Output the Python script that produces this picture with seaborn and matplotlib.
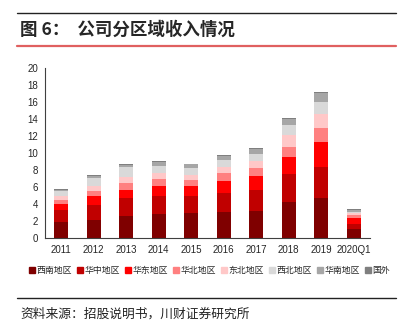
import matplotlib
matplotlib.use("Agg")
import matplotlib.pyplot as plt
from matplotlib.lines import Line2D
import seaborn as sns
import pandas as pd
import numpy as np

years = ["2011", "2012", "2013", "2014", "2015", "2016", "2017", "2018", "2019", "2020Q1"]
regions = ["西南地区", "华中地区", "华东地区", "华北地区", "东北地区", "西北地区", "华南地区", "国外"]

xinan   = [1.90, 2.15, 2.55, 2.80, 2.90, 3.00, 3.20, 4.25, 4.65, 1.10]
huazhong= [1.45, 1.75, 2.10, 2.10, 2.00, 2.35, 2.50, 3.25, 3.70, 0.60]
huadong = [0.70, 1.00, 1.00, 1.20, 1.25, 1.40, 1.55, 2.05, 3.00, 0.70]
huabei  = [0.40, 0.65, 0.85, 0.85, 0.70, 0.85, 0.95, 1.20, 1.60, 0.30]
dongbei = [0.45, 0.60, 0.70, 0.65, 0.60, 0.70, 0.80, 1.35, 1.65, 0.20]
xibei   = [0.60, 0.90, 1.10, 0.85, 0.75, 0.85, 0.90, 1.20, 1.35, 0.20]
huanan  = [0.20, 0.30, 0.30, 0.50, 0.50, 0.55, 0.55, 0.75, 1.10, 0.20]
guowai  = [0.10, 0.10, 0.10, 0.05, 0.05, 0.10, 0.10, 0.10, 0.15, 0.08]

series = [xinan, huazhong, huadong, huabei, dongbei, xibei, huanan, guowai]
colors = ["#7f0000", "#c00000", "#ff0000", "#ff8080", "#ffc8c8", "#d9d9d9", "#a6a6a6", "#7f7f7f"]

sns.set_style("white")
plt.rcParams["font.family"] = ["Liberation Sans", "Noto Sans CJK SC", "DejaVu Sans"]

fig = plt.figure(figsize=(4.07, 3.30), dpi=100)
ax = fig.add_axes([0.1106, 0.2788, 0.7985, 0.5152])

cum = np.cumsum(np.array(series), axis=0)
for i in range(len(regions) - 1, -1, -1):
    df = pd.DataFrame({"year": years, "value": cum[i]})
    sns.barplot(data=df, x="year", y="value", order=years, color=colors[i],
                width=0.43, saturation=1, ax=ax, linewidth=0, errorbar=None)

ax.set_xlim(-0.5, 9.5)
ax.set_ylim(0, 20)
ax.set_yticks(range(0, 21, 2))
ax.set_xlabel("")
ax.set_ylabel("")
for s in ["top", "right"]:
    ax.spines[s].set_visible(False)
for s in ["left", "bottom"]:
    ax.spines[s].set_color("#404040")
    ax.spines[s].set_linewidth(0.8)
ax.tick_params(axis="y", which="major", direction="out", length=3, width=0.8,
               color="#404040", labelsize=7, pad=2)
ax.tick_params(axis="x", which="major", length=0, labelsize=7, pad=5)
ax.set_xticks(np.arange(-0.5, 10, 1), minor=True)
ax.tick_params(axis="x", which="minor", direction="out", length=3, width=0.8, color="#404040")

handles = [Line2D([0], [0], marker="s", linestyle="", markersize=4,
                  markerfacecolor=c, markeredgecolor=c) for c in colors]
fig.legend(handles, regions, loc="center", bbox_to_anchor=(0.515, 0.180), ncol=8,
           frameon=False, prop={"family": ["Noto Sans CJK SC", "DejaVu Sans"], "size": 6.4},
           handlelength=0.6, handletextpad=0.2, columnspacing=0.6, borderaxespad=0)

# header / footer decorations
fig.add_artist(Line2D([0.042, 0.973], [0.961, 0.961], color="#222222", linewidth=1.0,
                      transform=fig.transFigure))
fig.add_artist(Line2D([0.042, 0.973], [0.861, 0.861], color="#e06060", linewidth=1.6,
                      transform=fig.transFigure))
fig.add_artist(Line2D([0.042, 0.973], [0.097, 0.097], color="#222222", linewidth=1.0,
                      transform=fig.transFigure))
fig.text(0.049, 0.911, "图 6：  公司分区域收入情况", ha="left", va="center", fontsize=12.6,
         fontweight="bold", family=["Noto Sans CJK SC", "DejaVu Sans"])
fig.text(0.049, 0.047, "资料来源：招股说明书，川财证券研究所", ha="left", va="center",
         fontsize=9.2, style="italic", color="#222222", family=["Noto Sans CJK SC", "DejaVu Sans"])

fig.savefig("out.png", dpi=100)
